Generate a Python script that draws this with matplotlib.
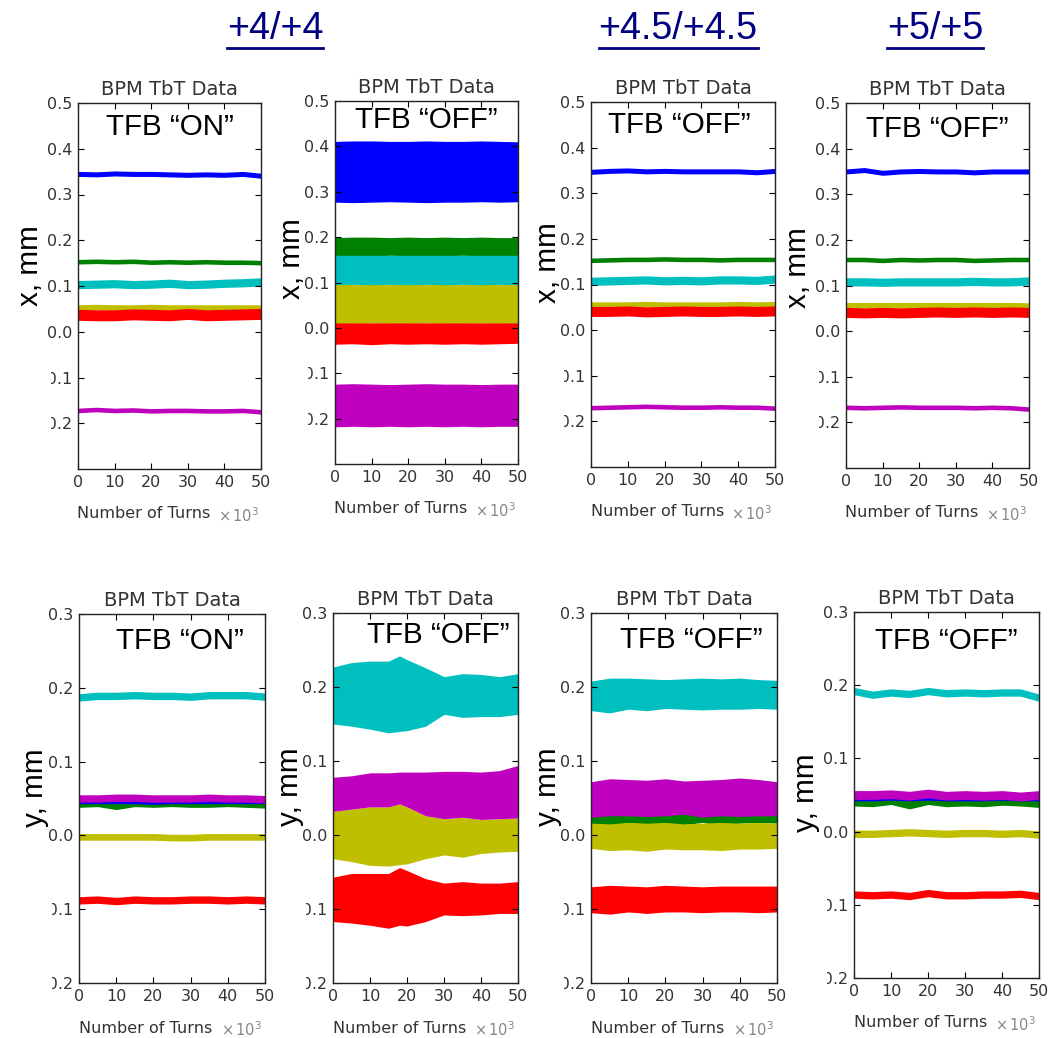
import numpy as np
import matplotlib
matplotlib.use('Agg')
import matplotlib.pyplot as plt
from matplotlib import font_manager
from matplotlib.transforms import Bbox
from matplotlib.lines import Line2D

TURNS = [0, 5, 10, 15, 20, 25, 30, 35, 40, 45, 50]
TURNS_Y44 = [0, 5, 10, 15, 18, 20, 25, 30, 35, 40, 45, 50]

# thin traces: color -> (centre values, half thickness)
X_44_ON = {
    'b': ([0.345, 0.344, 0.346, 0.345, 0.345, 0.344, 0.343, 0.344, 0.343, 0.345, 0.341], 0.0055),
    'g': ([0.153, 0.154, 0.153, 0.154, 0.152, 0.153, 0.152, 0.153, 0.152, 0.152, 0.151], 0.005),
    'c': ([0.103, 0.104, 0.105, 0.103, 0.104, 0.106, 0.103, 0.104, 0.106, 0.107, 0.109], 0.009),
    'y': ([0.053, 0.054, 0.053, 0.053, 0.054, 0.053, 0.053, 0.053, 0.053, 0.053, 0.053], 0.006),
    'r': ([0.037, 0.036, 0.036, 0.038, 0.037, 0.036, 0.039, 0.036, 0.037, 0.038, 0.039], 0.012),
    'm': ([-0.172, -0.170, -0.172, -0.171, -0.173, -0.172, -0.172, -0.173, -0.173, -0.172, -0.175], 0.005),
}
X_45_OFF = {
    'b': ([0.347, 0.349, 0.350, 0.348, 0.349, 0.348, 0.348, 0.348, 0.348, 0.346, 0.349], 0.0055),
    'g': ([0.153, 0.154, 0.155, 0.155, 0.156, 0.155, 0.155, 0.154, 0.155, 0.155, 0.155], 0.005),
    'c': ([0.107, 0.108, 0.109, 0.110, 0.108, 0.109, 0.108, 0.110, 0.110, 0.109, 0.112], 0.009),
    'y': ([0.056, 0.056, 0.056, 0.057, 0.056, 0.056, 0.056, 0.056, 0.057, 0.056, 0.057], 0.006),
    'r': ([0.041, 0.041, 0.042, 0.040, 0.041, 0.042, 0.041, 0.041, 0.042, 0.041, 0.042], 0.011),
    'm': ([-0.170, -0.169, -0.168, -0.167, -0.168, -0.169, -0.169, -0.168, -0.169, -0.169, -0.171], 0.005),
}
X_5_OFF = {
    'b': ([0.350, 0.353, 0.347, 0.350, 0.351, 0.350, 0.350, 0.348, 0.350, 0.350, 0.350], 0.0055),
    'g': ([0.157, 0.157, 0.155, 0.157, 0.156, 0.157, 0.157, 0.155, 0.156, 0.157, 0.157], 0.005),
    'c': ([0.108, 0.108, 0.107, 0.108, 0.108, 0.108, 0.108, 0.109, 0.108, 0.108, 0.110], 0.009),
    'y': ([0.057, 0.057, 0.057, 0.057, 0.057, 0.057, 0.057, 0.057, 0.057, 0.057, 0.056], 0.006),
    'r': ([0.041, 0.040, 0.041, 0.040, 0.041, 0.042, 0.041, 0.042, 0.041, 0.042, 0.041], 0.011),
    'm': ([-0.167, -0.168, -0.167, -0.166, -0.167, -0.167, -0.167, -0.168, -0.167, -0.168, -0.171], 0.005),
}
Y_44_ON = {
    'c': ([0.187, 0.189, 0.189, 0.190, 0.189, 0.189, 0.188, 0.190, 0.190, 0.190, 0.188], 0.005),
    'b': ([0.048, 0.048, 0.048, 0.048, 0.047, 0.048, 0.048, 0.048, 0.048, 0.048, 0.048], 0.005),
    'm': ([0.050, 0.050, 0.051, 0.051, 0.050, 0.050, 0.050, 0.051, 0.050, 0.050, 0.049], 0.005),
    'g': ([0.043, 0.044, 0.040, 0.044, 0.043, 0.044, 0.043, 0.043, 0.044, 0.043, 0.042], 0.005),
    'y': ([-0.002, -0.002, -0.002, -0.002, -0.002, -0.003, -0.003, -0.002, -0.002, -0.002, -0.002], 0.0045),
    'r': ([-0.088, -0.087, -0.089, -0.087, -0.088, -0.088, -0.087, -0.087, -0.088, -0.087, -0.088], 0.005),
}
Y_5_OFF = {
    'c': ([0.192, 0.187, 0.190, 0.188, 0.192, 0.189, 0.190, 0.189, 0.190, 0.190, 0.183], 0.005),
    'b': ([0.047, 0.047, 0.048, 0.047, 0.048, 0.047, 0.047, 0.047, 0.048, 0.047, 0.047], 0.005),
    'm': ([0.050, 0.050, 0.051, 0.049, 0.052, 0.049, 0.050, 0.049, 0.050, 0.048, 0.050], 0.006),
    'g': ([0.041, 0.040, 0.043, 0.037, 0.043, 0.040, 0.041, 0.040, 0.042, 0.041, 0.039], 0.006),
    'y': ([-0.003, -0.003, -0.002, -0.001, -0.002, -0.003, -0.002, -0.002, -0.003, -0.002, -0.004], 0.005),
    'r': ([-0.086, -0.087, -0.086, -0.088, -0.084, -0.087, -0.087, -0.086, -0.086, -0.085, -0.088], 0.005),
}

# wide bands: color -> (lower edge, upper edge)
X_44_OFF = {
    'b': ([0.277, 0.276, 0.277, 0.278, 0.277, 0.276, 0.277, 0.277, 0.278, 0.277, 0.278],
          [0.411, 0.412, 0.412, 0.411, 0.411, 0.412, 0.411, 0.411, 0.412, 0.411, 0.410]),
    'g': ([0.158, 0.159, 0.158, 0.160, 0.159, 0.158, 0.159, 0.160, 0.158, 0.159, 0.158],
          [0.199, 0.200, 0.200, 0.199, 0.200, 0.199, 0.200, 0.199, 0.200, 0.199, 0.199]),
    'c': ([0.095, 0.096, 0.095, 0.096, 0.095, 0.096, 0.095, 0.096, 0.095, 0.096, 0.095],
          [0.160, 0.160, 0.160, 0.160, 0.160, 0.160, 0.160, 0.160, 0.160, 0.160, 0.160]),
    'y': ([0.010, 0.010, 0.011, 0.010, 0.010, 0.011, 0.010, 0.010, 0.011, 0.010, 0.010],
          [0.096, 0.096, 0.096, 0.096, 0.096, 0.096, 0.096, 0.096, 0.096, 0.096, 0.096]),
    'r': ([-0.036, -0.035, -0.037, -0.035, -0.036, -0.035, -0.036, -0.035, -0.036, -0.035, -0.034],
          [0.011, 0.011, 0.011, 0.011, 0.011, 0.011, 0.011, 0.011, 0.011, 0.011, 0.011]),
    'm': ([-0.218, -0.217, -0.218, -0.217, -0.218, -0.217, -0.218, -0.217, -0.218, -0.217, -0.217],
          [-0.124, -0.123, -0.124, -0.125, -0.124, -0.123, -0.124, -0.124, -0.125, -0.124, -0.124]),
}
Y_44_OFF = {
    'c': ([0.150, 0.147, 0.143, 0.138, 0.140, 0.141, 0.147, 0.163, 0.159, 0.160, 0.160, 0.163],
          [0.227, 0.233, 0.235, 0.235, 0.242, 0.237, 0.226, 0.214, 0.218, 0.217, 0.214, 0.218]),
    'g': ([-0.012, -0.012, -0.012, -0.012, -0.012, -0.012, -0.012, -0.012, -0.012, -0.012, -0.012, -0.012],
          [0.012, 0.012, 0.012, 0.012, 0.012, 0.012, 0.012, 0.012, 0.012, 0.012, 0.012, 0.012]),
    'b': ([0.048, 0.048, 0.048, 0.048, 0.048, 0.048, 0.048, 0.048, 0.048, 0.048, 0.048, 0.048],
          [0.070, 0.070, 0.070, 0.070, 0.070, 0.070, 0.070, 0.070, 0.070, 0.070, 0.070, 0.070]),
    'm': ([0.032, 0.035, 0.038, 0.038, 0.042, 0.038, 0.026, 0.022, 0.024, 0.021, 0.022, 0.023],
          [0.078, 0.080, 0.084, 0.084, 0.085, 0.085, 0.085, 0.086, 0.086, 0.085, 0.087, 0.094]),
    'y': ([-0.032, -0.036, -0.041, -0.042, -0.040, -0.039, -0.032, -0.027, -0.030, -0.025, -0.023, -0.022],
          [0.032, 0.035, 0.038, 0.038, 0.042, 0.038, 0.026, 0.022, 0.024, 0.021, 0.022, 0.023]),
    'r': ([-0.117, -0.119, -0.122, -0.126, -0.122, -0.123, -0.117, -0.108, -0.109, -0.108, -0.106, -0.106],
          [-0.057, -0.052, -0.052, -0.052, -0.044, -0.048, -0.059, -0.065, -0.063, -0.065, -0.065, -0.063]),
}
Y_45_OFF = {
    'c': ([0.168, 0.165, 0.170, 0.168, 0.171, 0.170, 0.169, 0.170, 0.170, 0.171, 0.170],
          [0.208, 0.212, 0.212, 0.211, 0.210, 0.211, 0.212, 0.211, 0.212, 0.210, 0.209]),
    'b': ([0.035, 0.035, 0.035, 0.035, 0.035, 0.035, 0.035, 0.035, 0.035, 0.035, 0.035],
          [0.060, 0.060, 0.060, 0.060, 0.060, 0.060, 0.060, 0.060, 0.060, 0.060, 0.060]),
    'm': ([0.024, 0.026, 0.026, 0.025, 0.026, 0.028, 0.024, 0.026, 0.025, 0.026, 0.026],
          [0.072, 0.076, 0.075, 0.074, 0.076, 0.073, 0.074, 0.075, 0.077, 0.075, 0.072]),
    'g': ([0.014, 0.012, 0.017, 0.014, 0.016, 0.014, 0.017, 0.013, 0.016, 0.017, 0.016],
          [0.030, 0.032, 0.030, 0.032, 0.031, 0.035, 0.030, 0.032, 0.031, 0.032, 0.030]),
    'y': ([-0.018, -0.021, -0.020, -0.022, -0.019, -0.020, -0.020, -0.021, -0.019, -0.019, -0.018],
          [0.016, 0.015, 0.017, 0.016, 0.017, 0.015, 0.016, 0.017, 0.016, 0.017, 0.016]),
    'r': ([-0.105, -0.107, -0.104, -0.106, -0.104, -0.104, -0.105, -0.104, -0.104, -0.105, -0.104],
          [-0.070, -0.068, -0.069, -0.070, -0.068, -0.069, -0.070, -0.069, -0.069, -0.069, -0.069]),
}

HEADERS = ['+4/+4', '+4.5/+4.5', '+5/+5']
TITLE = 'BPM TbT Data'

COLORS = {'b': '#0000ff', 'g': '#008000', 'r': '#ff0000',
          'c': '#00bfbf', 'm': '#bf00bf', 'y': '#bfbf00'}
ORDER = ['g', 'y', 'r', 'c', 'b', 'm']

try:
    font_manager.findfont('Liberation Sans Narrow', fallback_to_default=False)
    NARROW, SCALE = 'Liberation Sans Narrow', 1.0
except ValueError:
    NARROW, SCALE = 'Liberation Sans', 0.82

W, H = 1050, 1038
fig = plt.figure(figsize=(W / 100, H / 100), dpi=100)


def px_rect(l, r, t, b):
    return [l / W, 1 - b / H, (r - l) / W, (b - t) / H]


# (data, turns, thin?, plane, tfb text, rect, tfb xy, ylabel xy)
panels = [
    (X_44_ON, TURNS, True, 'x', 'TFB \u201cON\u201d', px_rect(78, 261, 103, 469), (0.50, 0.934), (-0.26, 0.555)),
    (X_44_OFF, TURNS, False, 'x', 'TFB \u201cOFF\u201d', px_rect(335, 518, 101, 464), (0.50, 0.948), (-0.235, 0.567)),
    (X_45_OFF, TURNS, True, 'x', 'TFB \u201cOFF\u201d', px_rect(591, 775, 102, 467), (0.48, 0.937), (-0.235, 0.56)),
    (X_5_OFF, TURNS, True, 'x', 'TFB \u201cOFF\u201d', px_rect(846, 1029, 103, 468), (0.50, 0.93), (-0.26, 0.55)),
    (Y_44_ON, TURNS, True, 'y', 'TFB \u201cON\u201d', px_rect(79, 265, 614, 983), (0.54, 0.927), (-0.237, 0.53)),
    (Y_44_OFF, TURNS_Y44, False, 'y', 'TFB \u201cOFF\u201d', px_rect(333, 518, 613, 983), (0.57, 0.94), (-0.23, 0.53)),
    (Y_45_OFF, TURNS, False, 'y', 'TFB \u201cOFF\u201d', px_rect(591, 777, 613, 983), (0.54, 0.927), (-0.23, 0.53)),
    (Y_5_OFF, TURNS, True, 'y', 'TFB \u201cOFF\u201d', px_rect(854, 1039, 612, 978), (0.50, 0.92), (-0.26, 0.505)),
]

txt_col = '#333333'
axes = []
for data, turns, thin, plane, tfb, rect, tfb_xy, ylab_xy in panels:
    ax = fig.add_axes(rect)
    axes.append(ax)
    for key in ORDER:
        if key not in data:
            continue
        if thin:
            c, hw = data[key]
            lo, hi = np.array(c) - hw, np.array(c) + hw
        else:
            lo, hi = data[key]
        ax.fill_between(turns, lo, hi, color=COLORS[key], lw=0)

    ax.set_xlim(0, 50)
    ax.set_xticks(range(0, 51, 10))
    if plane == 'x':
        ax.set_ylim(-0.3, 0.5)
        ax.set_yticks(np.round(np.arange(-0.2, 0.51, 0.1), 1))
    else:
        ax.set_ylim(-0.2, 0.3)
        ax.set_yticks(np.round(np.arange(-0.2, 0.31, 0.1), 1))
    ax.yaxis.set_major_formatter(plt.FormatStrFormatter('%.1f'))
    ax.tick_params(direction='in', top=True, right=True, length=4, width=0.8,
                   labelsize=11.5, labelcolor=txt_col, pad=4)
    for sp in ax.spines.values():
        sp.set_linewidth(1.0)
        sp.set_color('#222222')

    ax.set_title(TITLE, fontsize=14, color=txt_col, pad=6)
    ax.set_xlabel('Number of Turns', fontsize=11.5, color=txt_col, va='top')
    ax.xaxis.set_label_coords(0.36, -0.102)
    ax.text(0.875, -0.102, r'$\times\,10^3$', transform=ax.transAxes, fontsize=10.5,
            color='#888888', ha='center', va='top')
    ax.set_ylabel(plane + ', mm', fontsize=26 * SCALE, family=NARROW, color='black', va='center')
    ax.yaxis.set_label_coords(*ylab_xy)
    ax.text(tfb_xy[0], tfb_xy[1], tfb, transform=ax.transAxes, fontsize=26 * SCALE,
            family=NARROW, ha='center', va='center', color='black')

header_x = [275, 678, 935]
head_texts = []
for label, hx in zip(HEADERS, header_x):
    t = fig.text(hx / W, 1 - 29 / H, label, fontsize=33 * SCALE, family=NARROW,
                 color='#000080', ha='center', va='center')
    head_texts.append(t)

fig.canvas.draw()
for t in head_texts:
    bb = t.get_window_extent()
    y = 1 - 48 / H
    fig.add_artist(Line2D([bb.x0 / W, bb.x1 / W], [y, y], color='#000080', lw=2.0))

# on the slide the minus signs of the negative tick labels are cut off
for ax in axes:
    labels = ax.get_yticklabels()
    x0 = [lab.get_window_extent().x0 for lab in labels if lab.get_text() == '0.0'][0]
    clip = Bbox([[x0 + 4, 0], [W, H]])
    for lab in labels:
        if lab.get_text().startswith('-'):
            lab.set_clip_box(clip)
            lab.set_clip_on(True)

fig.savefig('out.png', dpi=100)
